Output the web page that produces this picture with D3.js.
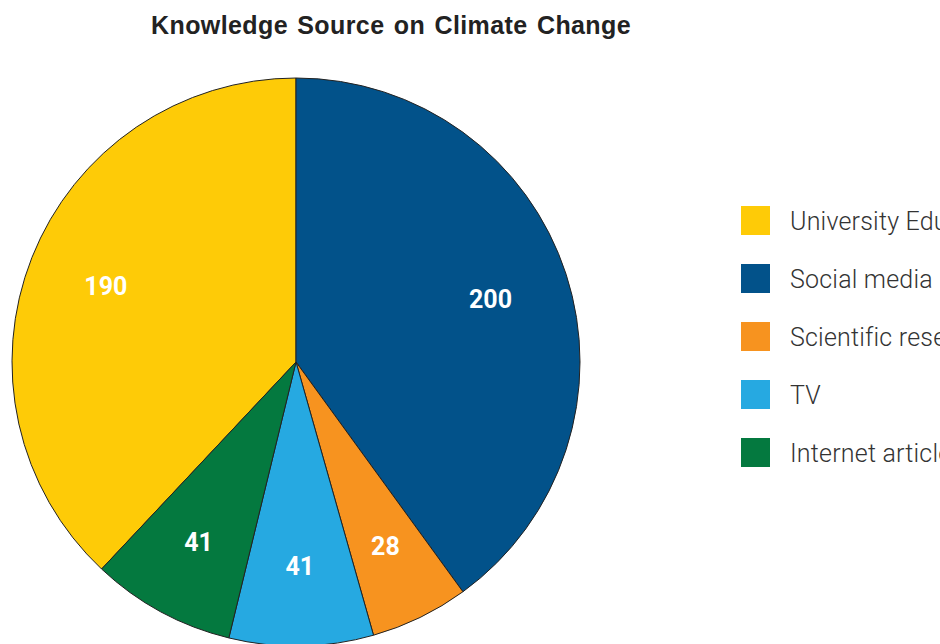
<!DOCTYPE html>
<html>
<head>
<meta charset="utf-8">
<script src="https://cdn.jsdelivr.net/npm/d3@7"></script>
<style>
  body { margin: 0; background: #fff; }
</style>
</head>
<body>
<script>
var width = 940;
var height = 644;

var categories = ["University Education", "Social media", "Scientific research", "TV", "Internet articles"];
var values = [190, 200, 28, 41, 41];
var colors = ["#FECB07", "#02528A", "#F7931F", "#26A9E1", "#04793F"];

var cx = 296, cy = 362, radius = 284;

var svg = d3.select("body")
            .append("svg")
            .attr("width", width)
            .attr("height", height);

svg.append("text")
   .attr("x", 391)
   .attr("y", 34)
   .attr("text-anchor", "middle")
   .attr("font-family", "'Liberation Sans', Arial, sans-serif")
   .attr("font-weight", "bold")
   .attr("font-size", "25px")
   .attr("letter-spacing", "0.4px")
   .attr("word-spacing", "2px")
   .attr("fill", "#222")
   .text("Knowledge Source on Climate Change");

var data = categories.map(function(c, i) {
  return { name: c, value: values[i], color: colors[i] };
});

// University slice ends at 12 o'clock, the rest run clockwise from there
var total = d3.sum(values);
var start = -2 * Math.PI * values[0] / total;

var pie = d3.pie()
            .sort(null)
            .value(function(d) { return d.value; })
            .startAngle(start)
            .endAngle(start + 2 * Math.PI);

var arc = d3.arc().innerRadius(0).outerRadius(radius);
var labelArc = d3.arc().innerRadius(radius * 0.72).outerRadius(radius * 0.72);

var g = svg.append("g")
           .attr("transform", "translate(" + cx + "," + cy + ")");

var arcs = pie(data);

g.selectAll("path")
 .data(arcs)
 .enter()
 .append("path")
 .attr("d", arc)
 .attr("fill", function(d) { return d.data.color; })
 .attr("stroke", "#222")
 .attr("stroke-width", 1);

g.selectAll("text")
 .data(arcs)
 .enter()
 .append("text")
 .attr("transform", function(d) {
   var c = labelArc.centroid(d);
   return "translate(" + c[0] + "," + c[1] + ")";
 })
 .attr("dy", "0.35em")
 .attr("text-anchor", "middle")
 .attr("font-family", "Roboto, 'Liberation Sans', sans-serif")
 .attr("font-weight", "bold")
 .attr("font-size", "25px")
 .attr("fill", "#fff")
 .text(function(d) { return d.data.value; });

var legend = svg.selectAll(".legend")
                .data(data)
                .enter()
                .append("g")
                .attr("class", "legend")
                .attr("transform", function(d, i) {
                  return "translate(741," + (206 + i * 58) + ")";
                });

legend.append("rect")
      .attr("width", 29)
      .attr("height", 29)
      .attr("fill", function(d) { return d.color; });

legend.append("text")
      .attr("x", 49)
      .attr("y", 14.5)
      .attr("dy", "0.36em")
      .attr("font-family", "Roboto, 'Liberation Sans', sans-serif")
      .attr("font-weight", 300)
      .attr("font-size", "25px")
      .attr("letter-spacing", "0.2px")
      .attr("fill", "#333")
      .text(function(d) { return d.name; });
</script>
</body>
</html>
